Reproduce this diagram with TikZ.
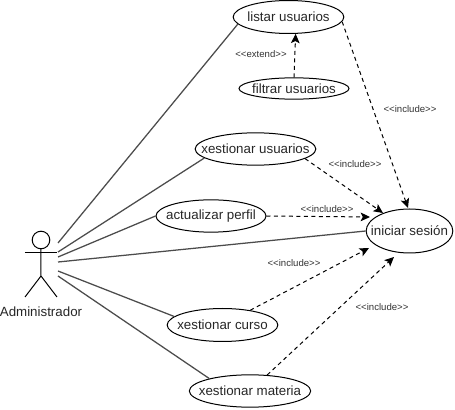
\documentclass[tikz,border=0pt]{standalone}
\usepackage{fontspec}
\setmainfont{Liberation Sans}
\usetikzlibrary{arrows.meta,shapes.geometric}
\newcommand{\incluye}{<{}<include>{}>}
\tikzset{
 caso/.style={draw,ellipse,inner sep=0pt,line width=0.75pt},
 texto/.style={font=\fontsize{10}{12}\selectfont,text=black!85,inner sep=0pt},
 enlace/.style={draw=black!70,line width=0.95pt},
 incluye/.style={dashed,dash pattern=on 3pt off 2.6pt,line width=0.75pt,-{Stealth[length=7pt,width=6.5pt,inset=1.6pt]}},
 etiqueta/.style={font=\fontsize{7.2}{8}\selectfont,text=black!80,inner sep=0pt}
}
\begin{document}
\begin{tikzpicture}[x=0.75pt,y=-0.75pt]
 \useasboundingbox (0,0) rectangle (455,410);
 % casos de uso
 \node[caso,minimum width=83pt,minimum height=24.75pt,label={[texto]center:listar usuarios}] (listar) at (288.5,17) {};
 \node[caso,minimum width=82.5pt,minimum height=16pt,label={[texto]center:filtrar usuarios}] (filtrar) at (294,88.5) {};
 \node[caso,minimum width=90.5pt,minimum height=24.25pt,label={[texto]center:xestionar usuarios}] (usuarios) at (255.5,149) {};
 \node[caso,minimum width=82.5pt,minimum height=24.25pt,label={[texto]center:actualizar perfil}] (perfil) at (211,216) {};
 \node[caso,minimum width=65pt,minimum height=33pt,label={[texto]center:iniciar sesión}] (sesion) at (409.5,231) {};
 \node[caso,minimum width=83pt,minimum height=24.75pt,label={[texto]center:xestionar curso}] (curso) at (222.5,325) {};
 \node[caso,minimum width=91pt,minimum height=24.25pt,label={[texto]center:xestionar materia}] (materia) at (250,391) {};
 % actor
 \draw[line width=0.75pt] (41,240) circle (6.6pt);
 \coordinate (cabeza) at (41,249);
 \coordinate (cadeira) at (41,276);
 \draw[line width=0.75pt] (cabeza)--(cadeira)--(25,297);
 \draw[line width=0.75pt] (cadeira)--(57,297);
 \draw[line width=0.75pt] (25,253)--(57,253);
 \node[texto] (admin) at (41,312) {Administrador};
 % saidas do actor
 \coordinate (a1) at (58,243);
 \coordinate (a2) at (58,252);
 \coordinate (a3) at (58,257);
 \coordinate (a4) at (58,262);
 \coordinate (a5) at (58,271);
 \coordinate (a6) at (58,276);
 \draw[enlace] (a1)--(listar.188);
 \draw[enlace] (a2)--(usuarios.190);
 \draw[enlace] (a3)--(perfil.west);
 \draw[enlace] (a4)--(sesion.west);
 \draw[enlace] (a5)--(curso.170);
 \draw[enlace] (a6)--(materia.163);
 % puntas sen tocar a elipse
 \coordinate (p1) at (408,208);
 \coordinate (p2) at (383,213);
 \coordinate (p3) at (370,217);
 \coordinate (p4) at (369,248);
 \coordinate (p5) at (394,257);
 \draw[incluye] (filtrar.north)--(listar.-67);
 \draw[incluye] (listar.-5)--(p1);
 \draw[incluye] (usuarios.-11)--(p2);
 \draw[incluye] (perfil.east)--(p3);
 \draw[incluye] (curso.28)--(p4);
 \draw[incluye] (materia.43)--(p5);
 % etiquetas
 \node[etiqueta] (e1) at (261,54) {<{}<extend>{}>};
 \node[etiqueta] (e2) at (410,109) {\incluye};
 \node[etiqueta] (e3) at (355,164) {\incluye};
 \node[etiqueta] (e4) at (327,209) {\incluye};
 \node[etiqueta] (e5) at (294,263) {\incluye};
 \node[etiqueta] (e6) at (382,307) {\incluye};
\end{tikzpicture}
\end{document}
